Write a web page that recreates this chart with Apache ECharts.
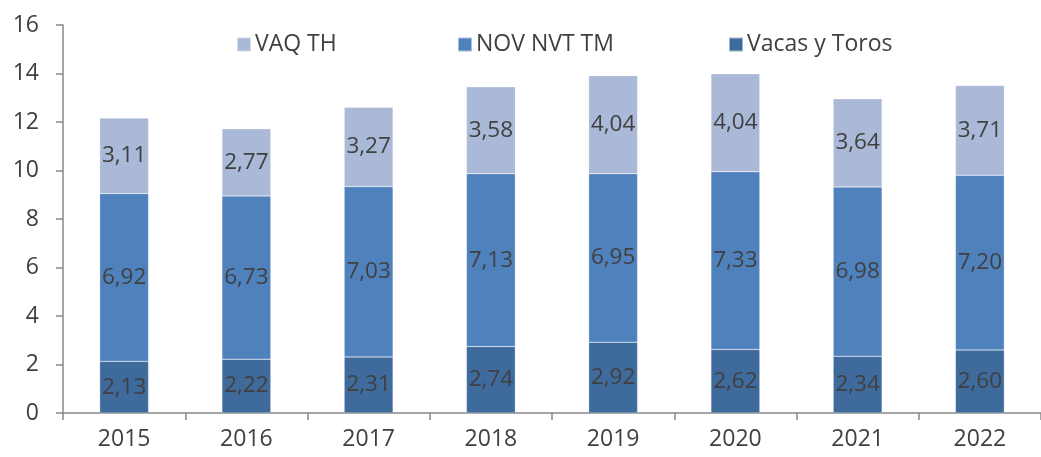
<!DOCTYPE html>
<html>
<head>
<meta charset="utf-8">
<script src="https://cdn.jsdelivr.net/npm/echarts@6/dist/echarts.min.js"></script>
<style>html,body{margin:0;padding:0;background:#fff}#c{width:1041px;height:457px}</style>
</head>
<body>
<div id="c"></div>
<script>
const categories = ['2015','2016','2017','2018','2019','2020','2021','2022'];
const vacasToros = [2.13, 2.22, 2.31, 2.74, 2.92, 2.62, 2.34, 2.60];
const novNvtTm = [6.92, 6.73, 7.03, 7.13, 6.95, 7.33, 6.98, 7.20];
const vaqTh = [3.11, 2.77, 3.27, 3.58, 4.04, 4.04, 3.64, 3.71];
const yTicks = [0, 2, 4, 6, 8, 10, 12, 14, 16];

const FONT = 'Open Sans';
const TXT = '#404040';
const fmt = v => v.toFixed(2).replace('.', ',');

function series(name, data, color) {
  return {
    name, type: 'bar', stack: 'total', data, barWidth: '40%',
    itemStyle: { color, borderColor: 'rgba(255,255,255,0.5)', borderWidth: 0.5 },
    label: { show: true, position: 'inside', color: TXT, fontFamily: FONT, fontSize: 22.5,
      formatter: p => fmt(p.value) }
  };
}
function legend(name, left) {
  return { data: [name], left, top: 33, itemWidth: 14, itemHeight: 14, itemGap: 6, padding: 0,
    icon: 'rect', textStyle: { color: TXT, fontFamily: FONT, fontSize: 23, padding: [0, 0, 0, -1] } };
}

const chart = echarts.init(document.getElementById('c'));
chart.setOption({
  animation: false,
  legend: [legend('VAQ TH', 236), legend('NOV NVT TM', 457), legend('Vacas y Toros', 728)],
  grid: { left: 63, right: -12, top: 25, bottom: 44, containLabel: false },
  xAxis: {
    type: 'category', data: categories,
    axisLine: { lineStyle: { color: '#888', width: 1.5 } },
    axisTick: { show: true, length: 7, lineStyle: { color: '#888', width: 1.5 } },
    axisLabel: { color: TXT, fontFamily: FONT, fontSize: 23, margin: 15 }
  },
  yAxis: {
    type: 'value', min: yTicks[0], max: yTicks[yTicks.length - 1], interval: 2,
    axisLine: { show: true, lineStyle: { color: '#888', width: 1.5 } },
    axisTick: { show: true, length: 7, lineStyle: { color: '#888', width: 1.5 } },
    splitLine: { show: false },
    axisLabel: { color: TXT, fontFamily: FONT, fontSize: 23, margin: 24 }
  },
  series: [
    series('Vacas y Toros', vacasToros, '#3F6A9C'),
    series('NOV NVT TM', novNvtTm, '#4F81BD'),
    series('VAQ TH', vaqTh, '#AAB9D7')
  ]
});
</script>
</body>
</html>
